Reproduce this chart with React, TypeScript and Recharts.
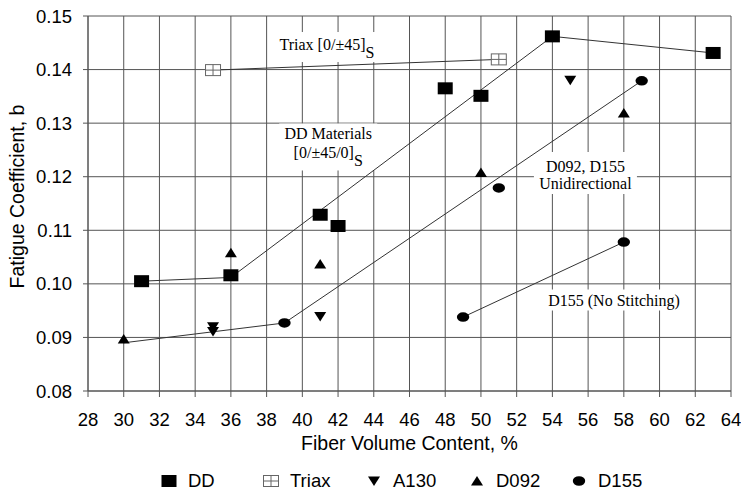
import { CartesianGrid, Label, ReferenceDot, Scatter, ScatterChart, XAxis, YAxis } from "recharts";

const fiberTicks = [28, 30, 32, 34, 36, 38, 40, 42, 44, 46, 48, 50, 52, 54, 56, 58, 60, 62, 64];
const coefTicks = [0.08, 0.09, 0.1, 0.11, 0.12, 0.13, 0.14, 0.15];

const ddFiber = [31, 36, 41, 42, 48, 50, 54, 63];
const ddCoef = [0.1005, 0.1016, 0.1129, 0.1108, 0.1365, 0.1351, 0.1462, 0.1431];

const triaxFiber = [35, 51];
const triaxCoef = [0.1399, 0.1419];

const a130Fiber = [35, 35, 41, 55];
const a130Coef = [0.092, 0.0911, 0.0939, 0.138];

const d092Fiber = [30, 36, 41, 50, 58];
const d092Coef = [0.0897, 0.1058, 0.1037, 0.1208, 0.1319];

const d155Fiber = [39, 49, 51, 58, 59];
const d155Coef = [0.0927, 0.0938, 0.1179, 0.1078, 0.1379];

// trend lines drawn through the groups
const ddFitFiber = [31, 36, 54, 63];
const ddFitCoef = [0.1005, 0.1012, 0.1462, 0.1431];
const uniFitFiber = [30, 39, 59];
const uniFitCoef = [0.089, 0.0927, 0.1379];
const noStitchFiber = [49, 58];
const noStitchCoef = [0.0938, 0.1078];

const pairs = (xs: number[], ys: number[]) => xs.map((x, i) => ({ x, y: ys[i] }));

const notes = [
  { x: 41.38, y: 0.14365, lines: [{ text: "Triax [0/\u00b145]", sub: "S" }], lh: 18, w: 108, h: 30, top: 18 },
  {
    x: 41.45,
    y: 0.12695,
    lines: [{ text: "DD Materials" }, { text: "[0/\u00b145/0]", sub: "S" }],
    lh: 18.5,
    w: 98,
    h: 47,
    top: 16,
  },
  { x: 55.85, y: 0.12088, lines: [{ text: "D092, D155" }, { text: "Unidirectional" }], lh: 17, w: 103, h: 42, top: 20 },
  { x: 57.45, y: 0.09596, lines: [{ text: "D155 (No Stitching)" }], lh: 17, w: 138, h: 21, top: 16 },
];

const SANS = "'Liberation Sans', Arial, sans-serif";
const SERIF = "'Liberation Serif', 'Times New Roman', serif";
const GRID = "#555";

const Square = ({ cx, cy }: any) => <rect x={cx - 7.5} y={cy - 6} width={15} height={12} fill="#000" />;

const CrossSquare = ({ cx, cy }: any) => (
  <g stroke="#666" strokeWidth={1} fill="#fff">
    <rect x={cx - 7.5} y={cy - 5.5} width={15} height={11} />
    <line x1={cx} y1={cy - 5.5} x2={cx} y2={cy + 5.5} />
    <line x1={cx - 7.5} y1={cy} x2={cx + 7.5} y2={cy} />
  </g>
);

const TriDown = ({ cx, cy }: any) => (
  <polygon points={`${cx - 6},${cy - 4.5} ${cx + 6},${cy - 4.5} ${cx},${cy + 5}`} fill="#000" />
);

const TriUp = ({ cx, cy }: any) => (
  <polygon points={`${cx - 6},${cy + 4.5} ${cx + 6},${cy + 4.5} ${cx},${cy - 5}`} fill="#000" />
);

const Dot = ({ cx, cy }: any) => <ellipse cx={cx} cy={cy} rx={6.2} ry={4.8} fill="#000" />;

const NoMark = () => <g />;

function Note({ cx, cy, note }: any) {
  return (
    <g>
      <rect x={cx - note.w / 2} y={cy - note.top} width={note.w} height={note.h} fill="#fff" />
      {note.lines.map((l: any, i: number) => (
        <text
          key={i}
          x={cx}
          y={cy + i * note.lh}
          textAnchor="middle"
          fontFamily={SERIF}
          fontSize={16}
          fill="#000"
        >
          {l.text}
          {l.sub && <tspan dy={8}>{l.sub}</tspan>}
        </text>
      ))}
    </g>
  );
}

const legendItems = [
  { name: "DD", Icon: Square, left: 169 },
  { name: "Triax", Icon: CrossSquare, left: 271 },
  { name: "A130", Icon: TriDown, left: 374 },
  { name: "D092", Icon: TriUp, left: 477 },
  { name: "D155", Icon: Dot, left: 579 },
];

export default function App() {
  const line = { stroke: "#333", strokeWidth: 1 };
  return (
    <div style={{ position: "absolute", left: 0, top: 0, width: 741, height: 492, background: "#fff", fontFamily: SANS }}>
      <ScatterChart width={741} height={492} margin={{ top: 16, right: 10, bottom: 41, left: 0 }}>
        <CartesianGrid stroke={GRID} strokeWidth={1} />
        <XAxis
          type="number"
          dataKey="x"
          domain={[28, 64]}
          ticks={fiberTicks}
          interval={0}
          height={60}
          stroke={GRID}
          tickSize={6}
          tickMargin={16}
          tick={{ fill: "#000", fontSize: 18.5, fontFamily: SANS }}
        >
          <Label
            value="Fiber Volume Content, %"
            position="insideBottom"
            offset={1}
            style={{ fill: "#000", fontSize: 19.5, fontFamily: SANS }}
          />
        </XAxis>
        <YAxis
          type="number"
          dataKey="y"
          domain={[0.08, 0.15]}
          ticks={coefTicks}
          interval={0}
          width={88}
          stroke={GRID}
          tickSize={5}
          tickMargin={11}
          tickFormatter={(v: number) => v.toFixed(2)}
          tick={{ fill: "#000", fontSize: 18.5, fontFamily: SANS }}
        >
          <Label
            content={({ viewBox }: any) => {
              const x = viewBox.x + 17;
              const y = viewBox.y + viewBox.height / 2 - 7;
              return (
                <text
                  x={x}
                  y={y}
                  transform={`rotate(-90 ${x} ${y})`}
                  textAnchor="middle"
                  dominantBaseline="central"
                  fontFamily={SANS}
                  fontSize={19.5}
                  fill="#000"
                >
                  Fatigue Coefficient, b
                </text>
              );
            }}
          />
        </YAxis>
        {notes.map((n, i) => (
          <ReferenceDot key={i} x={n.x} y={n.y} r={0} shape={(p: any) => <Note cx={p.cx} cy={p.cy} note={n} />} />
        ))}
        <Scatter data={pairs(ddFitFiber, ddFitCoef)} line={line} lineType="joint" shape={NoMark} isAnimationActive={false} />
        <Scatter data={pairs(uniFitFiber, uniFitCoef)} line={line} lineType="joint" shape={NoMark} isAnimationActive={false} />
        <Scatter data={pairs(noStitchFiber, noStitchCoef)} line={line} lineType="joint" shape={NoMark} isAnimationActive={false} />
        <Scatter data={pairs(triaxFiber, triaxCoef)} line={line} lineType="joint" shape={CrossSquare} isAnimationActive={false} />
        <Scatter data={pairs(ddFiber, ddCoef)} shape={Square} isAnimationActive={false} />
        <Scatter data={pairs(a130Fiber, a130Coef)} shape={TriDown} isAnimationActive={false} />
        <Scatter data={pairs(d092Fiber, d092Coef)} shape={TriUp} isAnimationActive={false} />
        <Scatter data={pairs(d155Fiber, d155Coef)} shape={Dot} isAnimationActive={false} />
      </ScatterChart>
      {legendItems.map(({ name, Icon, left }) => (
        <div key={name} style={{ position: "absolute", left: left - 10, top: 469, height: 24, display: "flex", alignItems: "center" }}>
          <svg width={20} height={24}>
            <Icon cx={10} cy={12} />
          </svg>
          <span style={{ marginLeft: 9, fontSize: 18.5, color: "#000", lineHeight: "24px" }}>{name}</span>
        </div>
      ))}
    </div>
  );
}
